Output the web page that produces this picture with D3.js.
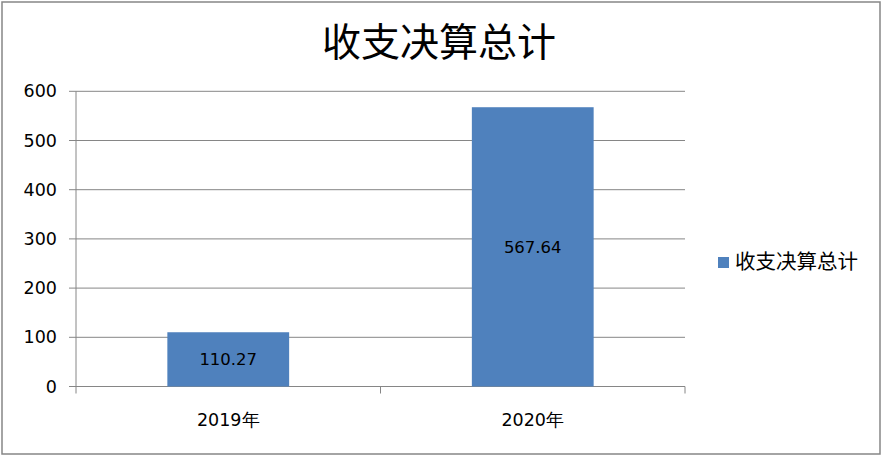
<!DOCTYPE html>
<html><head><meta charset="utf-8">
<script src="https://cdn.jsdelivr.net/npm/d3@7"></script>
<style>body{margin:0;background:#fff}svg{display:block}</style>
</head><body>
<script>
const categories = ["2019年", "2020年"];
const values = [110.27, 567.64];
const yTicks = [0, 100, 200, 300, 400, 500, 600];
const seriesName = "收支决算总计";
const title = "收支决算总计";

(function () {
const W = 882, H = 456;
const svg = d3.select("body").append("svg").attr("width", W).attr("height", H);
svg.append("rect").attr("x", 2).attr("y", 2).attr("width", W - 4).attr("height", H - 4)
  .attr("fill", "#fff").attr("stroke", "#868686").attr("stroke-width", 1.5);

const pl = 76, pr = 685, pt = 91.3, pb = 386.5;
const x = d3.scaleBand().domain(categories).range([pl, pr]).paddingInner(0.6).paddingOuter(0.3);
const y = d3.scaleLinear().domain([0, 600]).range([pb, pt]);
const font = "'DejaVu Sans', sans-serif";

svg.append("g").selectAll("line").data(yTicks).join("line")
  .attr("x1", pl - 7).attr("x2", pr).attr("y1", d => y(d)).attr("y2", d => y(d))
  .attr("stroke", "#868686").attr("stroke-width", 1);
svg.append("line").attr("x1", pl).attr("x2", pl).attr("y1", pt).attr("y2", pb).attr("stroke", "#868686");
const bnd = [pl, (pl + pr) / 2, pr];
svg.append("g").selectAll("line").data(bnd).join("line")
  .attr("x1", d => d).attr("x2", d => d).attr("y1", pb).attr("y2", pb + 7).attr("stroke", "#868686");

svg.append("g").selectAll("text").data(yTicks).join("text")
  .attr("x", 57).attr("y", d => y(d)).attr("dy", "0.35em").attr("text-anchor", "end")
  .attr("font-family", font).attr("font-size", 17.5).attr("fill", "#000").text(d => d);

svg.append("g").selectAll("rect").data(values).join("rect")
  .attr("x", (d, i) => x(categories[i])).attr("width", x.bandwidth())
  .attr("y", d => y(d)).attr("height", d => y(0) - y(d)).attr("fill", "#4F81BD");

svg.append("g").selectAll("text").data(values).join("text")
  .attr("x", (d, i) => x(categories[i]) + x.bandwidth() / 2)
  .attr("y", d => (y(d) + y(0)) / 2).attr("dy", "0.35em").attr("text-anchor", "middle")
  .attr("font-family", font).attr("font-size", 16.5).attr("fill", "#000").text(d => d.toFixed(2));

svg.append("g").selectAll("text").data(categories).join("text")
  .attr("x", d => x(d) + x.bandwidth() / 2).attr("y", 420).attr("dy", "0.35em").attr("text-anchor", "middle")
  .attr("font-family", font).attr("font-size", 17.5).attr("fill", "#000").text(d => d);

svg.append("text").attr("x", 439).attr("y", 42).attr("dy", "0.35em").attr("text-anchor", "middle")
  .attr("font-family", "'Noto Sans CJK SC', sans-serif").attr("font-size", 39).attr("fill", "#000").text(title);

svg.append("rect").attr("x", 718).attr("y", 257).attr("width", 11).attr("height", 11).attr("fill", "#4F81BD");
svg.append("text").attr("x", 735).attr("y", 262).attr("dy", "0.35em")
  .attr("font-family", "'Noto Sans CJK SC', sans-serif").attr("font-size", 20.5).attr("fill", "#000").text(seriesName);
})();
</script>
</body></html>
